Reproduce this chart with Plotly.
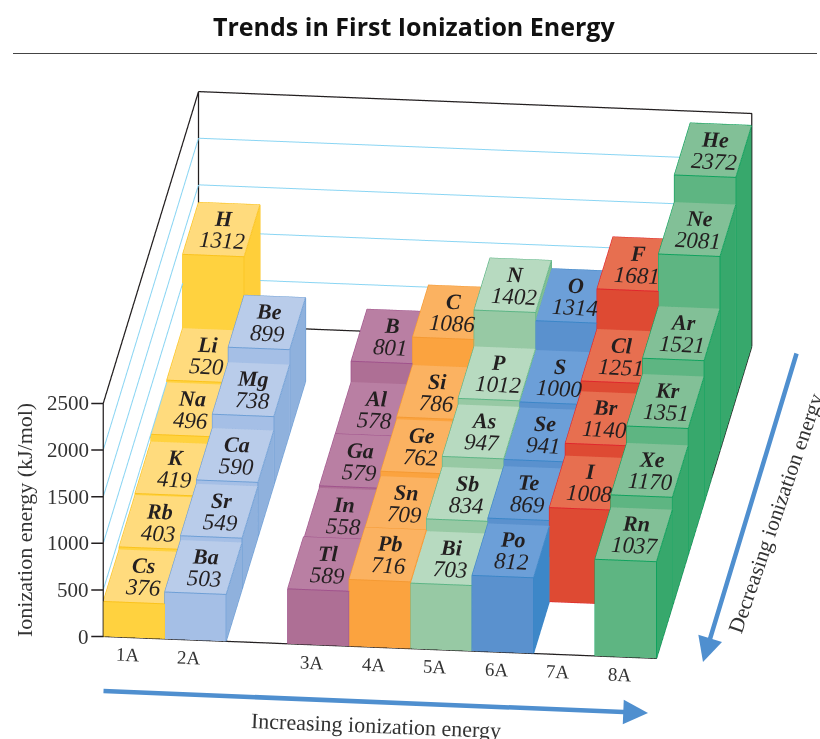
import plotly.graph_objects as go

group_names = ["1A", "2A", "3A", "4A", "5A", "6A", "7A", "8A"]
group_cols = [0, 1, 3, 4, 5, 6, 7, 8]
group_first_row = [0, 0, 0, 0, 0, 0, 1, 0]
symbols = [
    ["Cs", "Rb", "K", "Na", "Li", "H"],
    ["Ba", "Sr", "Ca", "Mg", "Be"],
    ["Tl", "In", "Ga", "Al", "B"],
    ["Pb", "Sn", "Ge", "Si", "C"],
    ["Bi", "Sb", "As", "P", "N"],
    ["Po", "Te", "Se", "S", "O"],
    ["I", "Br", "Cl", "F"],
    ["Rn", "Xe", "Kr", "Ar", "Ne", "He"],
]
energies = [
    [376, 403, 419, 496, 520, 1312],
    [503, 549, 590, 738, 899],
    [589, 558, 579, 578, 801],
    [716, 709, 762, 786, 1086],
    [703, 834, 947, 1012, 1402],
    [812, 869, 941, 1000, 1314],
    [1008, 1140, 1251, 1681],
    [1037, 1170, 1351, 1521, 2081, 2372],
]
top_colors = ["#FFDB7D", "#B9CCEA", "#B97FA3", "#FBB261", "#B7DAC0", "#6C9FD8", "#E76F50", "#82C097"]
front_colors = ["#FFD23F", "#A5BFE6", "#AE6F95", "#FBA33F", "#97C9A4", "#5A91CE", "#DE4A33", "#5EB582"]
side_colors = ["#FFCF3A", "#8FB1DD", "#9B5E88", "#F79532", "#82BF94", "#3D87C8", "#D84530", "#37A86C"]
edge_colors = ["#FBC31C", "#6E9FD6", "#A0528C", "#F59A33", "#5CB585", "#3B86C8", "#E0262D", "#0FA25E"]
z_ticks = [0, 500, 1000, 1500, 2000, 2500]

W, H = 820, 739
fig = go.Figure()
annotations = []
serif = "Liberation Serif"

for g, col in enumerate(group_cols):
    X, Y, Z, I, J, K, FC = [], [], [], [], [], [], []
    ex, ey, ez = [], [], []
    for r, (sym, val) in enumerate(zip(symbols[g], energies[g])):
        row = r + group_first_row[g]
        b = len(X)
        for zz in (0, val):
            for xx, yy in ((col, row), (col + 1, row), (col + 1, row + 1), (col, row + 1)):
                X.append(xx); Y.append(yy); Z.append(zz)
        quads = [((b+4, b+5, b+6, b+7), top_colors[g]),
                 ((b+0, b+1, b+5, b+4), front_colors[g]),
                 ((b+1, b+2, b+6, b+5), side_colors[g])]
        for (p, q, s, t), c in quads:
            I += [p, p]; J += [q, s]; K += [s, t]; FC += [c, c]
        for seq in ((4, 5, 6, 7, 4), (5, 1, 0, 4), (6, 2, 1)):
            for v in seq:
                ex.append(X[b+v]); ey.append(Y[b+v]); ez.append(Z[b+v])
            ex.append(None); ey.append(None); ez.append(None)
        annotations.append(dict(
            x=col + 0.5, y=row + 0.5, z=val, showarrow=False, textangle=2, yshift=11, xshift=2,
            xanchor="center", yanchor="middle", text=f"<b><i>{sym}</i></b>",
            font=dict(family=serif, size=22, color="#231F20")))
        annotations.append(dict(
            x=col + 0.5, y=row + 0.5, z=val, showarrow=False, textangle=3, yshift=-11, xshift=1,
            xanchor="center", yanchor="middle", text=f"<i>{val}</i>",
            font=dict(family=serif, size=23, color="#231F20")))
    fig.add_trace(go.Mesh3d(x=X, y=Y, z=Z, i=I, j=J, k=K, facecolor=FC, flatshading=True,
                            lighting=dict(ambient=1, diffuse=0, specular=0, fresnel=0, roughness=1),
                            hoverinfo="skip", showscale=False))
    fig.add_trace(go.Scatter3d(x=ex, y=ey, z=ez, mode="lines", line=dict(color=edge_colors[g], width=2),
                               hoverinfo="skip", showlegend=False))

Xn, Yn, Zn = 9, 6, 2500

# grid lines on the left and back walls
gx, gy, gz = [], [], []
for t in z_ticks[1:-1]:
    gx += [0, 0, Xn, None]; gy += [0, Yn, Yn, None]; gz += [t, t, t, None]
fig.add_trace(go.Scatter3d(x=gx, y=gy, z=gz, mode="lines", line=dict(color="#8AD5F3", width=2),
                           hoverinfo="skip", showlegend=False))

# box frame
fx = [0, 0, 0, None, 0, 0, Xn, Xn, None, 0, Xn, Xn, None, 0, Xn]
fy = [0, Yn, Yn, None, 0, 0, 0, Yn, None, Yn, Yn, Yn, None, Yn, Yn]
fz = [Zn, Zn, 0, None, Zn, 0, 0, 0, None, Zn, Zn, 0, None, 0, 0]
fig.add_trace(go.Scatter3d(x=fx, y=fy, z=fz, mode="lines", line=dict(color="#231F20", width=2.5),
                           hoverinfo="skip", showlegend=False))

for t in z_ticks:
    annotations.append(dict(x=0, y=0, z=t, text=str(t), showarrow=True, arrowhead=0, arrowwidth=1.5,
                            arrowcolor="#231F20", ax=-12, ay=0, standoff=0, xanchor="right", yanchor="middle",
                            font=dict(family=serif, size=21, color="#333333")))
for name, col in zip(group_names, group_cols):
    annotations.append(dict(x=col + 0.5, y=0, z=0, text=name, showarrow=False, yshift=-17, xshift=-6, textangle=2,
                            xanchor="center", yanchor="middle",
                            font=dict(family=serif, size=19, color="#333333")))

def ax3(**kw):
    base = dict(showbackground=False, showspikes=False, zeroline=False, showline=False, title=dict(text=""),
                showticklabels=False, ticks="", showgrid=False)
    base.update(kw)
    return base

d = 1.31
k = 1.529
scene = dict(
    domain=dict(x=[0.0427, 1], y=[0, 0.985]),
    xaxis=ax3(range=[0, 9]),
    yaxis=ax3(range=[0, 6]),
    zaxis=ax3(range=[0, 2500]),
    aspectmode="manual",
    aspectratio=dict(x=1*k, y=1.565*k, z=0.449*k),
    camera=dict(projection=dict(type="orthographic"), up=dict(x=0, y=0, z=1),
                center=dict(x=0, y=0, z=0), eye=dict(x=0.102*d, y=-0.927*d, z=0.360*d)),
    annotations=annotations,
)

def px(x, y):
    return x / W, 1 - y / H

def note(x, y, text, size, angle=0):
    a, b = px(x, y)
    return dict(xref="paper", yref="paper", x=a, y=b, text=text, showarrow=False, textangle=angle,
                xanchor="center", yanchor="middle",
                font=dict(size=size, family=serif, color="#333333"))
def arrow(x0, y0, x1, y1):
    a, b = px(x1, y1)
    return dict(xref="paper", yref="paper", x=a, y=b, ax=x0 - x1, ay=y0 - y1, text="", showarrow=True,
                arrowhead=2, arrowsize=1.1, arrowwidth=4.5, arrowcolor="#4F8FCF")

tx, ty = px(414, 26)
paper_notes = [
    note(24, 520, "Ionization energy (kJ/mol)", 22, -90),
    note(376, 725, "Increasing ionization energy", 22, 2.3),
    note(776, 513, "Decreasing ionization energy", 21.5, -71),
    arrow(102, 691, 648, 713),
    arrow(797, 352, 703, 662),
    dict(xref="paper", yref="paper", x=tx, y=ty, text="<b>Trends in First Ionization Energy</b>",
         showarrow=False, xanchor="center", yanchor="middle",
         font=dict(family="Open Sans", size=25, color="#111111")),
]

fig.update_layout(
    width=W, height=H, margin=dict(l=0, r=0, t=0, b=0), autosize=False,
    paper_bgcolor="white", showlegend=False, scene=scene,
    annotations=paper_notes,
    shapes=[dict(type="line", xref="paper", yref="paper", x0=13/W, x1=817/W, y0=1-53.5/H, y1=1-53.5/H,
                 line=dict(color="#444444", width=1.2))],
)
fig.write_html("out.html", config=dict(displayModeBar=False), post_script="document.body.style.margin='0';")
